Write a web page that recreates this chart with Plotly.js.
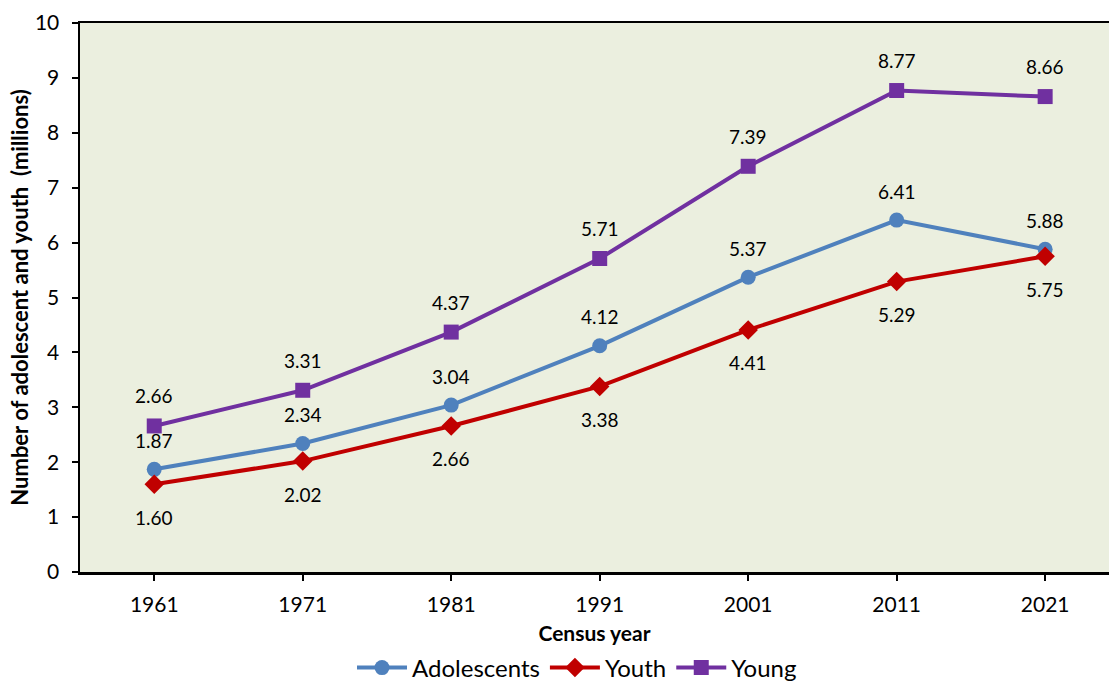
<!DOCTYPE html>
<html>
<head>
<meta charset="utf-8">
<script src="https://cdn.plot.ly/plotly-3.0.1.min.js"></script>
<style>html,body{margin:0;padding:0;overflow:hidden;background:#fff}#chart{width:1109px;height:683px}</style>
</head>
<body>
<div id="chart"></div>
<script>
const years = ["1961","1971","1981","1991","2001","2011","2021"];
const adolescents = [1.87, 2.34, 3.04, 4.12, 5.37, 6.41, 5.88];
const youth = [1.60, 2.02, 2.66, 3.38, 4.41, 5.29, 5.75];
const young = [2.66, 3.31, 4.37, 5.71, 7.39, 8.77, 8.66];

const FONT = "Lato, sans-serif";

const series = [
  {name: "Adolescents", y: adolescents, color: "#4F81BD", symbol: "circle", size: 15, shift: 29},
  {name: "Youth", y: youth, color: "#C00000", symbol: "diamond", size: 15, shift: -33},
  {name: "Young", y: young, color: "#7030A0", symbol: "square", size: 15, shift: 30}
];

const traces = series.map(s => ({
  type: "scatter", mode: "lines+markers", name: s.name,
  x: years, y: s.y,
  line: {color: s.color, width: 4},
  marker: {color: s.color, symbol: s.symbol, size: s.size},
  cliponaxis: false
}));

const annotations = [];
series.forEach(s => {
  s.y.forEach((v, i) => {
    annotations.push({
      x: i, y: v, xref: "x", yref: "y",
      text: v.toFixed(2), showarrow: false, yshift: s.shift,
      font: {family: FONT, size: 19, color: "#000"}
    });
  });
});

const layout = {
  width: 1109, height: 683,
  margin: {l: 80, r: 0, t: 23, b: 111, autoexpand: false},
  paper_bgcolor: "#ffffff",
  plot_bgcolor: "#ebefdf",
  font: {family: FONT, color: "#000"},
  showlegend: true,
  legend: {
    orientation: "h", x: 0.483, xanchor: "center",
    yref: "container", y: 0.022, yanchor: "middle",
    font: {family: FONT, size: 24, color: "#000"},
    itemwidth: 50, tracegroupgap: 0, bgcolor: "rgba(0,0,0,0)"
  },
  xaxis: {
    type: "category", range: [-0.5, 6.43],
    showline: true, linecolor: "#000", linewidth: 2.5, mirror: true,
    ticks: "outside", ticklen: 6, tickwidth: 2, tickcolor: "#000",
    ticklabelstandoff: 6,
    showgrid: false, zeroline: false,
    tickfont: {family: FONT, size: 21, color: "#000"},
    title: {text: "<b>Census year</b>", font: {family: FONT, size: 21, color: "#000"}, standoff: 24}
  },
  yaxis: {
    range: [0, 10], dtick: 1,
    showline: true, linecolor: "#000", linewidth: 2.5,
    ticks: "outside", ticklen: 6, tickwidth: 2, tickcolor: "#000",
    ticklabelstandoff: 8,
    showgrid: false, zeroline: false,
    tickfont: {family: FONT, size: 21, color: "#000"},
    title: {text: "<b>Number of adolescent and youth  (millions)</b>", font: {family: FONT, size: 22, color: "#000"}, standoff: 0}
  },
  annotations: annotations
};

Plotly.newPlot("chart", traces, layout, {displayModeBar: false, staticPlot: true});
</script>
</body>
</html>
